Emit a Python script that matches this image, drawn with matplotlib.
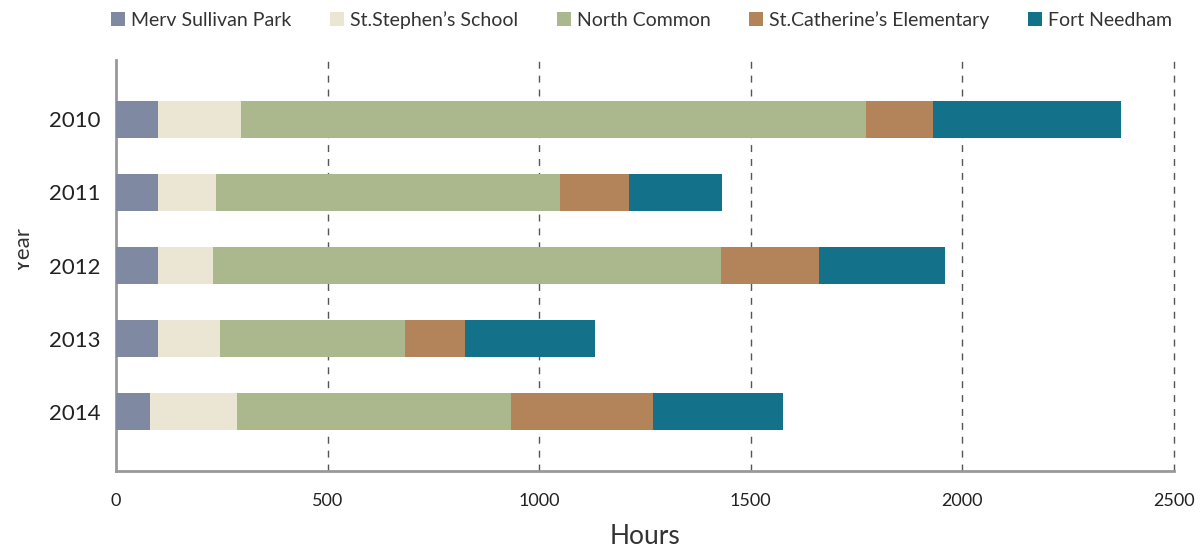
import matplotlib
matplotlib.use("Agg")
import matplotlib.pyplot as plt
from matplotlib.transforms import Bbox
import numpy as np

years = ["2010", "2011", "2012", "2013", "2014"]
sites = ["Merv Sullivan Park", "St.Stephen\u2019s School", "North Common",
         "St.Catherine\u2019s Elementary", "Fort Needham"]
merv_sullivan = [100, 100, 100, 100, 80]
st_stephens = [195, 136, 130, 146, 206]
north_common = [1477, 814, 1200, 438, 648]
st_catherines = [159, 163, 232, 140, 334]
fort_needham = [443, 218, 296, 308, 308]
colors = ["#7f89a1", "#ebe5d3", "#abb78c", "#b3835a", "#13718a"]
xticks = [0, 500, 1000, 1500, 2000, 2500]

series = [merv_sullivan, st_stephens, north_common, st_catherines, fort_needham]

W, H = 1201, 554
fig = plt.figure(figsize=(W / 100, H / 100), dpi=100)
ax = fig.add_axes([116 / W, 1 - 471 / H, (1174 - 116) / W, (471 - 60) / H])

y = np.arange(len(years))
left = np.zeros(len(years))
handles = []
for name, vals, c in zip(sites, series, colors):
    b = ax.barh(y, vals, left=left, height=0.5, color=c, label=name, zorder=3)
    handles.append(b)
    left += np.array(vals)

ax.set_xlim(0, 2500)
ax.set_ylim(4.81, -0.81)
ax.set_yticks(y)
ax.set_yticklabels(years, fontsize=16, family="Lato", color="#222222")
ax.set_xticks(xticks)
ax.set_xticklabels([str(t) for t in xticks], fontsize=13, family="Lato", color="#222222")
ax.tick_params(axis="both", length=0)
ax.tick_params(axis="x", pad=16)
ax.tick_params(axis="y", pad=11)

for t in xticks[1:]:
    ax.axvline(t, color="#555555", lw=1, ls=(0, (5, 5)), zorder=1, clip_on=False)

for s in ["top", "right"]:
    ax.spines[s].set_visible(False)
for s in ["left", "bottom"]:
    ax.spines[s].set_color("#999999")
    ax.spines[s].set_linewidth(2)

ax.set_xlabel("Hours", fontsize=19, family="Lato", color="#333333", labelpad=11)

# axis title sits against the left edge, with its cap line trimmed
ylab = fig.text(24 / W, 1 - 250 / H, "Year", rotation=90, ha="center", va="center",
                fontsize=16, family="Lato", color="#333333")
ylab.set_clip_box(Bbox.from_extents(18, 0, W, H))
ylab.set_clip_on(True)

fig.legend(handles, sites, loc="center", bbox_to_anchor=(0.534, 1 - 20 / H), ncol=5,
           frameon=False, prop={"family": "Lato", "size": 14},
           handlelength=0.72, handleheight=0.72, handletextpad=0.3,
           columnspacing=2.0, labelcolor="#333333", borderpad=0)

fig.savefig("out.png", dpi=100)
